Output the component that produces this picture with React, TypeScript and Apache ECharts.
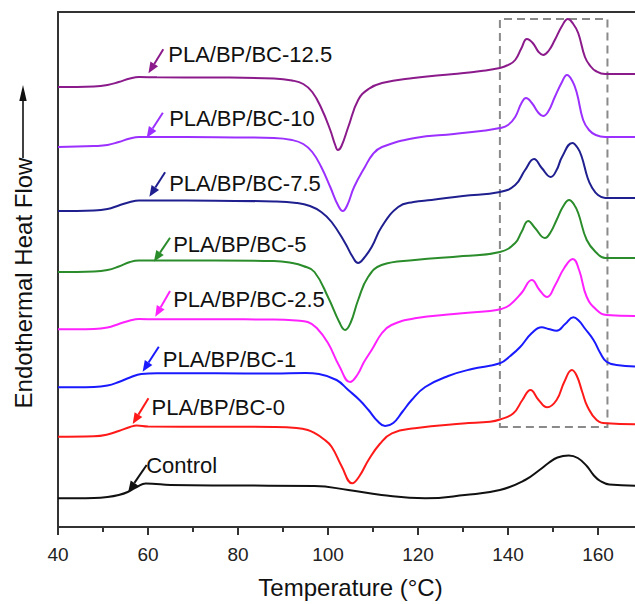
import React, { useEffect, useRef } from "react";
import * as echarts from "echarts";

const FONT = '"Liberation Sans", Arial, Helvetica, sans-serif';

// x axis (Temperature, °C)
const xMin = 40;
const xMax = 170;
const xInterval = 20;

// y axis: relative heat flow (arbitrary units, endothermal up)
const yMin = 0;
const yMax = 515;

// DSC curves: [temperature °C, heat flow (a.u.)]
const curveControl: number[][] = [
  [40, 28.7], [48, 29], [51, 30], [53.5, 32], [55.5, 35], [57.5, 40], [59.5, 43.5], [61, 43.3],
  [65, 42], [80, 41.5], [97, 41], [104.5, 37], [111.9, 32], [121.6, 28.7], [130.4, 32],
  [138.2, 37], [143.8, 47], [147, 57], [149, 64], [151, 69.5], [153.5, 71.5], [155.5, 69],
  [157.5, 61], [159, 52], [160.5, 46], [162.5, 42.5], [170, 41.3],
];

const curve0: number[][] = [
  [40, 90.3], [48, 90.7], [51, 92.5], [53.5, 96], [56, 100], [57.5, 101.5], [60, 100.5],
  [75, 100.3], [88, 100], [93, 99], [95.5, 97], [97.1, 93.7], [99, 88], [100.8, 80.3],
  [103, 61], [105.4, 43.7], [107, 51], [109, 67], [111.5, 83], [114.2, 93.7], [119.3, 98.7],
  [130, 103.5], [136, 105.3], [138.2, 107.5], [141.2, 113.7], [143.2, 127], [145, 137],
  [146.8, 127], [148.7, 119.7], [150.8, 127], [152.5, 145], [154.2, 157], [155.3, 151],
  [156.5, 135], [157.7, 120], [159.7, 107], [161.9, 103.7], [170, 102.7],
];

const curve1: number[][] = [
  [40, 139.7], [48, 140], [51, 141.5], [53.5, 145], [56, 149.5], [58.5, 153], [62, 153.7],
  [75, 153.7], [88, 153.5], [95, 154], [98, 153], [101.9, 147], [104.5, 137], [107, 127],
  [109, 117], [111, 106], [112.7, 101], [114.5, 104], [116.5, 115], [118.6, 127],
  [121.6, 140], [126.7, 151], [132, 158], [138.2, 163.7], [140.5, 171], [142.7, 180],
  [145.3, 194], [147.5, 199.7], [149, 198], [150.8, 196.3], [152.7, 203], [154.5, 209.7],
  [155.8, 206], [157, 199], [159, 187], [160.5, 174], [161.9, 165.3], [164.1, 162],
  [170, 160.3],
];

const curve2_5: number[][] = [
  [40, 197.7], [48, 198], [51, 199.5], [53.5, 203], [56, 206.5], [58, 208], [62, 207.7],
  [75, 207.7], [88, 207.5], [93, 206.5], [95.5, 205], [97.5, 199], [100, 184], [102.5, 161],
  [104.9, 145], [106.5, 152], [108, 165], [109.7, 177], [112, 194], [114.1, 202],
  [119.3, 208.7], [128, 213], [136, 216], [138.5, 218], [140.4, 222], [143, 234],
  [145.3, 247], [147, 237], [148.7, 230], [150.5, 242], [152.5, 259], [154.4, 268],
  [155.8, 257], [157.5, 230], [159.7, 217], [161.9, 212], [170, 211],
];

const curve5: number[][] = [
  [40, 255], [48, 255.5], [51, 257], [53.5, 260.5], [56, 265], [58, 266.5], [62, 266.5],
  [75, 266.5], [88, 266], [92, 264], [94.5, 261], [97, 255], [100.1, 229], [102.5, 205],
  [103.8, 197], [105, 204], [106.7, 227], [108.9, 250], [111.9, 262], [119.3, 267],
  [130, 271], [138.2, 275], [141.6, 284], [143, 295], [144.5, 306], [146, 299],
  [148.2, 289], [149.5, 295], [150.8, 307], [152.3, 321], [153.6, 327], [154.6, 323],
  [155.6, 314], [157.5, 287], [159.7, 274], [161.6, 269], [170, 269],
];

const curve7_5: number[][] = [
  [40, 316], [48, 316.5], [51, 318], [53.5, 321.5], [56, 325], [58, 326.5], [62, 326.5],
  [75, 326.2], [88, 325.5], [93, 324], [96, 321], [98.5, 315], [100.8, 305], [103.8, 284],
  [105.5, 270], [106.7, 264], [108, 269], [109.7, 280], [111.9, 300], [115.6, 320],
  [119, 325], [123, 327], [130, 331], [138.2, 335], [141.6, 342], [143.8, 357],
  [145.8, 368], [147.5, 359], [149.5, 350], [150.8, 357], [152, 370], [154.3, 384],
  [155.5, 379], [156.4, 370], [157.7, 349], [158.6, 340], [160, 332], [161.6, 329],
  [170, 329],
];

const curve10: number[][] = [
  [40, 380], [48, 381], [51, 382], [53.5, 385], [56, 388.5], [58, 390], [62, 390],
  [75, 389.7], [88, 389], [92, 387], [94.5, 383], [96.5, 375], [98.5, 360], [100.5, 340],
  [102.2, 322], [103.3, 316], [104.3, 322], [105.8, 340], [108.2, 360], [110, 373],
  [112, 380], [119.3, 389], [128, 393], [134, 396], [138.2, 399], [140, 402], [141.6, 410],
  [143, 424], [144, 429], [145.3, 424], [146.8, 414], [147.8, 411], [149, 416],
  [150.4, 430], [152, 445], [153.1, 452], [154.3, 446], [155.3, 434], [156.7, 407],
  [158, 397], [159.5, 392], [161.6, 390], [170, 390],
];

const curve12_5: number[][] = [
  [40, 440], [48, 440.5], [51, 442], [53.5, 445], [56, 448.5], [58, 450], [62, 449.7],
  [75, 449.5], [88, 448.5], [92, 446.5], [94.5, 443], [96.5, 435], [98.5, 419],
  [100.5, 397], [101.6, 382], [102.2, 377], [103, 381], [104.5, 400], [106.7, 427],
  [109, 438], [112, 444], [119, 449], [128, 453], [134, 456], [138.2, 459], [140, 462],
  [141.6, 467], [143, 479], [144.2, 488], [145.5, 484], [146.8, 475], [147.8, 472],
  [149, 476], [150.4, 487], [152, 501], [153.3, 508], [154.5, 503], [155.6, 494],
  [157.1, 470], [158.3, 461], [159.5, 456], [161.6, 453], [170, 453],
];

const seriesNames = [
  "Control", "PLA/BP/BC-0", "PLA/BP/BC-1", "PLA/BP/BC-2.5",
  "PLA/BP/BC-5", "PLA/BP/BC-7.5", "PLA/BP/BC-10", "PLA/BP/BC-12.5",
];
const seriesData = [curveControl, curve0, curve1, curve2_5, curve5, curve7_5, curve10, curve12_5];
const seriesColors = [
  "#111111", "#FF1A1A", "#1A1AFF", "#FF22FF", "#2A8C2A", "#1F1F8F", "#9B30FF", "#8B1A8B",
];

// Annotation anchors in data coordinates [temperature, heat flow]
const labelPos: number[][] = [
  [59.6, 61.2], [60.8, 120], [63.3, 167.8], [65.6, 227.8],
  [65.6, 282.5], [64.7, 343.3], [64.7, 408.7], [64.5, 472.5],
];
const arrowStart: number[][] = [
  [59.7, 62], [60.1, 128.7], [62.4, 180.3], [64.9, 236],
  [64.9, 289.3], [63.8, 354.7], [63.3, 414.3], [63.4, 477.7],
];
const arrowTip: number[][] = [
  [55.6, 35], [56.6, 103], [58.8, 155.3], [61.6, 210.3],
  [61.3, 265.3], [60.3, 330.3], [59.7, 389.3], [60.1, 453.7],
];

// Dashed box around melting region
const boxX = [138.2, 162.1];
const boxY = [100, 508];

export default function App() {
  const ref = useRef<HTMLDivElement>(null);

  useEffect(() => {
    if (!ref.current) return;
    const chart = echarts.init(ref.current, undefined, { renderer: "svg" });

    const axisColor = "#333333";
    const series: any[] = seriesNames.map((name, i) => ({
      name,
      type: "line",
      data: seriesData[i],
      showSymbol: false,
      smooth: 0.45,
      lineStyle: { color: seriesColors[i], width: 2 },
      itemStyle: { color: seriesColors[i] },
      z: 3,
    }));
    series[0].markArea = {
      silent: true,
      itemStyle: {
        color: "rgba(0,0,0,0)",
        borderColor: "#8a8a8a",
        borderWidth: 2,
        borderType: [8, 5],
      },
      data: [[{ xAxis: boxX[0], yAxis: boxY[0] }, { xAxis: boxX[1], yAxis: boxY[1] }]],
    };

    chart.setOption({
      animation: false,
      backgroundColor: "#ffffff",
      grid: {
        left: 58,
        top: 12,
        width: 585,
        height: 515,
        containLabel: false,
        outerBoundsMode: "none",
      },
      xAxis: [
        {
          type: "value",
          min: xMin,
          max: xMax,
          interval: xInterval,
          position: "bottom",
          name: "Temperature (°C)",
          nameLocation: "middle",
          nameGap: 48,
          nameTextStyle: { fontFamily: FONT, fontSize: 24, color: "#111" },
          axisLine: { show: true, lineStyle: { color: axisColor, width: 2 } },
          axisTick: { show: true, inside: false, length: 8, lineStyle: { color: axisColor, width: 2 } },
          minorTick: { show: true, splitNumber: 2, length: 5, lineStyle: { color: axisColor, width: 2 } },
          splitLine: { show: false },
          minorSplitLine: { show: false },
          axisLabel: {
            fontFamily: FONT,
            fontSize: 19,
            color: "#222",
            margin: 18,
            formatter: (v: number) => (v % 20 === 0 && v < 170 ? String(v) : ""),
          },
        },
        {
          type: "value",
          min: xMin,
          max: xMax,
          position: "top",
          axisLine: { show: true, lineStyle: { color: axisColor, width: 2 } },
          axisTick: { show: false },
          axisLabel: { show: false },
          splitLine: { show: false },
        },
      ],
      yAxis: {
        type: "value",
        min: yMin,
        max: yMax,
        axisLine: { show: true, lineStyle: { color: axisColor, width: 2 } },
        axisTick: { show: false },
        axisLabel: { show: false },
        splitLine: { show: false },
      },
      series,
    });

    const graphics: any[] = [];
    // y-axis title with arrow
    graphics.push({
      type: "text",
      x: 23,
      y: 283,
      rotation: Math.PI / 2,
      style: {
        text: "Endothermal Heat Flow",
        font: `24px ${FONT}`,
        fill: "#111",
        align: "center",
        verticalAlign: "middle",
      },
    });
    graphics.push({
      type: "line",
      shape: { x1: 23, y1: 158, x2: 23, y2: 100 },
      style: { stroke: "#111", lineWidth: 1.6 },
    });
    graphics.push({
      type: "polygon",
      shape: { points: [[23, 85], [19.3, 101], [26.7, 101]] },
      style: { fill: "#111" },
    });

    for (let i = 0; i < seriesNames.length; i++) {
      const lp = chart.convertToPixel({ gridIndex: 0 }, labelPos[i]) as number[];
      const a0 = chart.convertToPixel({ gridIndex: 0 }, arrowStart[i]) as number[];
      const a1 = chart.convertToPixel({ gridIndex: 0 }, arrowTip[i]) as number[];
      const dx = a1[0] - a0[0];
      const dy = a1[1] - a0[1];
      const len = Math.sqrt(dx * dx + dy * dy) || 1;
      const ux = dx / len;
      const uy = dy / len;
      const headLen = 11;
      const headHalf = 4.5;
      const bx = a1[0] - ux * headLen;
      const by = a1[1] - uy * headLen;
      const color = seriesColors[i];
      graphics.push({
        type: "line",
        shape: { x1: a0[0], y1: a0[1], x2: bx, y2: by },
        style: { stroke: color, lineWidth: 2 },
        z: 10,
      });
      graphics.push({
        type: "polygon",
        shape: {
          points: [
            [a1[0], a1[1]],
            [bx - uy * headHalf, by + ux * headHalf],
            [bx + uy * headHalf, by - ux * headHalf],
          ],
        },
        style: { fill: color },
        z: 10,
      });
      graphics.push({
        type: "text",
        x: lp[0],
        y: lp[1],
        style: {
          text: seriesNames[i],
          font: `22px ${FONT}`,
          fill: "#111",
          align: "left",
          verticalAlign: "middle",
        },
        z: 10,
      });
    }

    chart.setOption({ graphic: graphics });

    return () => {
      chart.dispose();
    };
  }, []);

  return (
    <div
      ref={ref}
      style={{ position: "fixed", left: 0, top: 0, width: 635, height: 604, background: "#fff" }}
    />
  );
}
